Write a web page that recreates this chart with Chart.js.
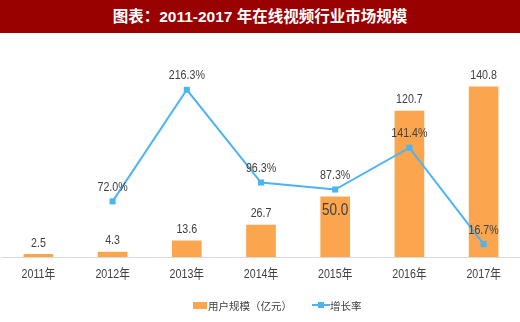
<!DOCTYPE html>
<html>
<head>
<meta charset="utf-8">
<script src="https://cdn.jsdelivr.net/npm/chart.js@4/dist/chart.umd.min.js"></script>
<style>
  html, body { margin: 0; padding: 0; background: #fff; overflow: hidden; }
  body { width: 520px; height: 322px; position: relative; }
  #title {
    position: absolute; left: 0; top: 0; width: 520px; height: 33px;
    background: #990000; color: #fff; text-align: center;
    font: bold 15.5px "Liberation Sans", "Noto Sans CJK SC", sans-serif;
    line-height: 33px;
  }
  #wrap { position: absolute; left: -3px; top: 34px; width: 528px; height: 288px; }
  #legend {
    position: absolute; left: 193px; top: 297px; height: 16px;
    font: 10.5px "Noto Sans CJK SC", sans-serif; color: #404040;
    display: flex; align-items: center; white-space: nowrap;
  }
  #legend .box { display: inline-block; width: 14px; height: 7px; margin-right: 1px; }
  #legend .ln { display: inline-block; position: relative; width: 18px; height: 7px; margin-left: 20px; margin-right: 0; }
  #legend .ln i { position: absolute; left: 0; top: 2.5px; width: 18px; height: 2px; }
  #legend .ln b { position: absolute; left: 6px; top: 0.5px; width: 6px; height: 6px; }
</style>
</head>
<body>
<div id="title">图表：2011-2017 年在线视频行业市场规模</div>
<div id="wrap"><canvas id="c"></canvas></div>
<div id="legend"></div>
<script>
var categories = ['2011年', '2012年', '2013年', '2014年', '2015年', '2016年', '2017年'];
var marketSize = [2.5, 4.3, 13.6, 26.7, 50.0, 120.7, 140.8];
var growthRate = [null, 72.0, 216.3, 96.3, 87.3, 141.4, 16.7];
var seriesNames = ['用户规模（亿元）', '增长率'];

var orange = '#FBA64E';
var blue = '#4DB4F2';
var textColor = '#404040';
var labelFont = '"Liberation Sans", "Noto Sans CJK SC", sans-serif';

// html legend
var lg = document.getElementById('legend');
lg.innerHTML =
  '<span class="box" style="background:' + orange + '"></span><span>' + seriesNames[0] + '</span>' +
  '<span class="ln"><i style="background:' + blue + '"></i><b style="background:' + blue + '"></b></span><span>' + seriesNames[1] + '</span>';

// draw text squeezed horizontally, to look like the narrow font in the original
function narrowText(ctx, text, x, y, size) {
  ctx.save();
  ctx.font = size + 'px ' + labelFont;
  ctx.translate(x, y);
  ctx.scale(0.82, 1);
  ctx.fillText(text, 0, 0);
  ctx.restore();
}

var valueLabels = {
  id: 'valueLabels',
  afterDatasetsDraw: function (chart) {
    var ctx = chart.ctx;
    ctx.save();
    ctx.textAlign = 'center';
    ctx.textBaseline = 'middle';
    ctx.fillStyle = textColor;
    // bars = dataset 1
    chart.getDatasetMeta(1).data.forEach(function (el, i) {
      var v = marketSize[i];
      if (i === 4) narrowText(ctx, v.toFixed(1), el.x, el.y + 14, 16.5);
      else narrowText(ctx, v.toFixed(1), el.x, el.y - 11, 13);
    });
    // line = dataset 0
    chart.getDatasetMeta(0).data.forEach(function (el, i) {
      var v = growthRate[i];
      if (v == null) return;
      narrowText(ctx, v.toFixed(1) + '%', el.x, el.y - 14, 13);
    });
    // category labels under the axis
    var xs = chart.scales.x;
    categories.forEach(function (c, i) {
      narrowText(ctx, c, xs.getPixelForValue(i), chart.chartArea.bottom + 17, 13);
    });
    ctx.restore();
  }
};

new Chart(document.getElementById('c'), {
  data: {
    labels: categories,
    datasets: [{
      type: 'line',
      label: seriesNames[1],
      data: growthRate,
      yAxisID: 'y1',
      borderColor: blue,
      backgroundColor: blue,
      borderWidth: 2,
      pointStyle: 'rect',
      pointRadius: 4.3,
      pointBackgroundColor: blue,
      pointBorderWidth: 0,
      tension: 0,
      order: 0
    }, {
      type: 'bar',
      label: seriesNames[0],
      data: marketSize,
      yAxisID: 'y',
      backgroundColor: orange,
      categoryPercentage: 1,
      barPercentage: 0.4,
      order: 1
    }]
  },
  plugins: [valueLabels],
  options: {
    responsive: true,
    maintainAspectRatio: false,
    animation: false,
    layout: { padding: { top: 5, left: 0, right: 0, bottom: 57 } },
    plugins: {
      tooltip: { enabled: false },
      legend: { display: false }
    },
    scales: {
      x: {
        offset: true,
        grid: { display: false },
        border: { display: true, color: '#D9D9D9', width: 1 },
        ticks: { display: false }
      },
      y: {
        display: false,
        min: 0, max: 180
      },
      y1: {
        display: false,
        position: 'right',
        min: 0, max: 282
      }
    }
  }
});
</script>
</body>
</html>
